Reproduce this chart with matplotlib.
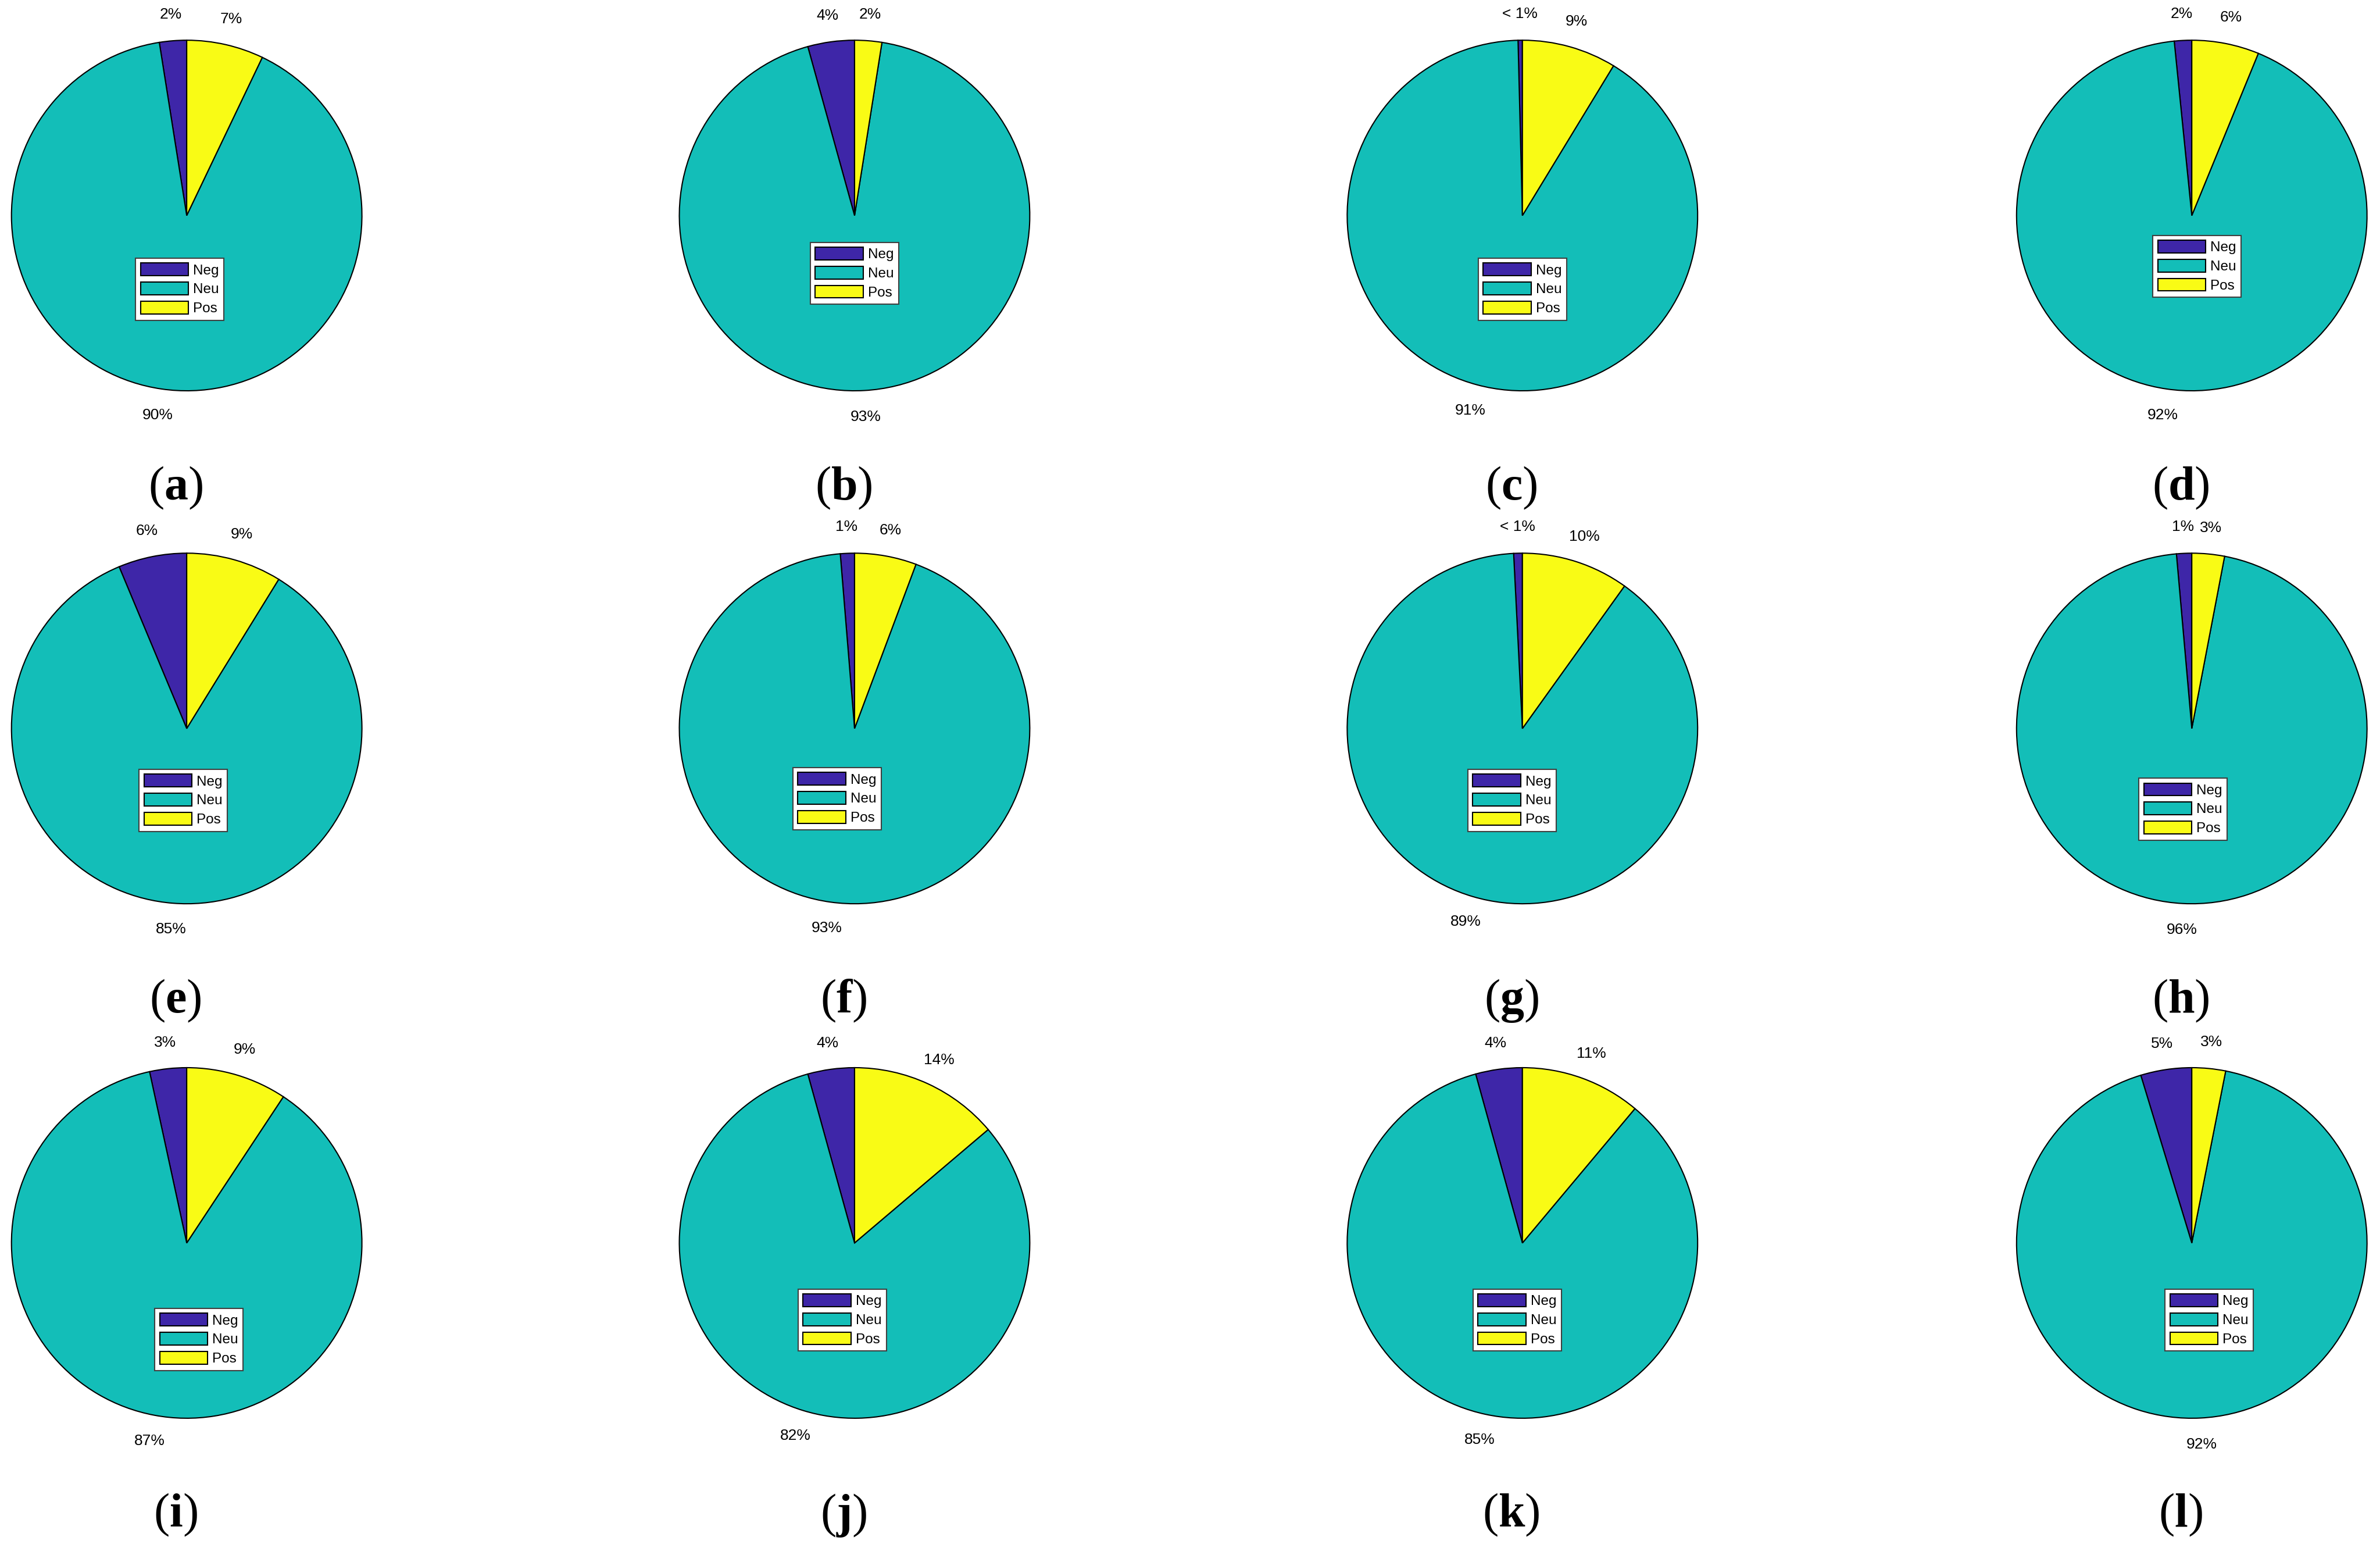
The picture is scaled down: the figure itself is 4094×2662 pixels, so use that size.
import matplotlib.pyplot as plt

plt.rcParams['mathtext.fontset'] = 'custom'
plt.rcParams['mathtext.rm'] = 'Liberation Serif'
plt.rcParams['mathtext.bf'] = 'Liberation Serif:bold'

# Data: share of negative / neutral / positive per panel (percent)
panels = list('abcdefghijkl')
categories = ['Neg', 'Neu', 'Pos']
neg = [2.5, 4.3, 0.4, 1.6, 6.3, 1.3, 0.8, 1.4, 3.4, 4.3, 4.3, 4.7]
neu = [90.4, 93.2, 90.9, 92.2, 84.9, 93.0, 89.3, 95.6, 87.3, 81.9, 84.6, 92.2]
pos = [7.1, 2.5, 8.7, 6.2, 8.8, 5.7, 9.9, 3.0, 9.3, 13.8, 11.1, 3.1]
neg_labels = ['2%', '4%', '< 1%', '2%', '6%', '1%', '< 1%', '1%', '3%', '4%', '4%', '5%']
neu_labels = ['90%', '93%', '91%', '92%', '85%', '93%', '89%', '96%', '87%', '82%', '85%', '92%']
pos_labels = ['7%', '2%', '9%', '6%', '9%', '6%', '10%', '3%', '9%', '14%', '11%', '3%']

colors = ['#3E26A8', '#13BEB8', '#F9FB15']

# layout (in pixels of a 1568x1020 view)
W, H = 1568, 1020
col_x = [123, 563, 1003, 1444]
row_y = [142, 480, 819]
R = 115.5
lim = 1.25
legend_pos = [(-0.04, -0.42), (0.0, -0.33), (0.0, -0.42), (0.03, -0.29),
              (-0.02, -0.41), (-0.10, -0.40), (-0.06, -0.41), (-0.05, -0.46),
              (0.07, -0.55), (-0.07, -0.44), (-0.03, -0.44), (0.10, -0.44)]

fig = plt.figure(figsize=(40.94, 26.62), dpi=100)

for i, p in enumerate(panels):
    r, c = divmod(i, 4)
    cx, cy = col_x[c], row_y[r]
    ax = fig.add_axes([(cx - lim * R) / W, 1 - (cy + lim * R) / H,
                       2 * lim * R / W, 2 * lim * R / H])
    wedges, texts = ax.pie([neg[i], neu[i], pos[i]], colors=colors, startangle=90,
                           labels=[neg_labels[i], neu_labels[i], pos_labels[i]],
                           labeldistance=1.15,
                           textprops=dict(fontsize=19, family='Liberation Sans'),
                           wedgeprops=dict(edgecolor='black', linewidth=1.5))
    for t in texts:
        t.set_ha('center')
        t.set_va('center')
    ax.set_xlim(-lim, lim)
    ax.set_ylim(-lim, lim)
    ax.axis('off')

    leg = ax.legend(wedges, categories, loc='center', bbox_to_anchor=legend_pos[i],
                    bbox_transform=ax.transData, prop=dict(family='Liberation Sans', size=17.5),
                    handlelength=3.4, handleheight=1.0, labelspacing=0.35,
                    handletextpad=0.33, borderpad=0.35, fancybox=False,
                    edgecolor='#404040', framealpha=1)
    leg.get_frame().set_linewidth(1.5)

    ax.text(-0.063, -1.62, r'($\mathbf{%s}$)' % p, ha='center', va='baseline',
            fontsize=59, family='Liberation Serif', clip_on=False)

fig.savefig('out.png', dpi=100)
